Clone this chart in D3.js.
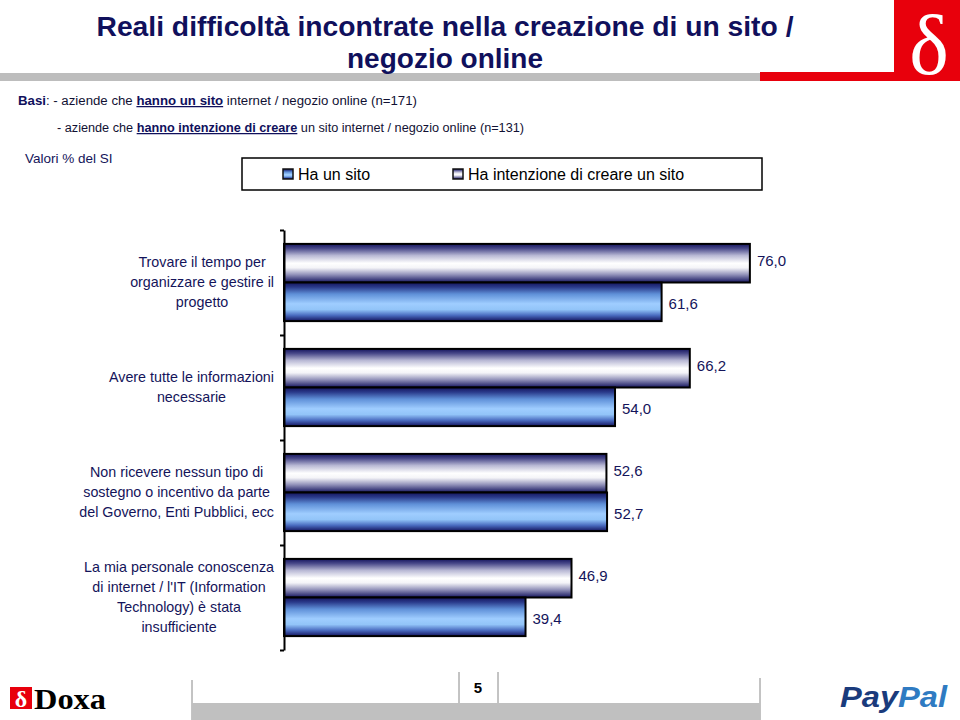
<!DOCTYPE html>
<html><head><meta charset="utf-8">
<script src="https://cdn.jsdelivr.net/npm/d3@7"></script>
<style>
html,body{margin:0;padding:0;background:#fff;}
svg{display:block;font-family:"Liberation Sans",Arial,sans-serif;}
</style></head>
<body><svg id="c" width="960" height="720"></svg>
<script>
const categories = [
  ["Trovare il tempo per","organizzare e gestire il","progetto"],
  ["Avere tutte le informazioni","necessarie"],
  ["Non ricevere nessun tipo di","sostegno o incentivo da parte","del Governo, Enti Pubblici, ecc"],
  ["La mia personale conoscenza","di internet / l'IT (Information","Technology) è stata","insufficiente"]
];
const seriesNames = ["Ha un sito", "Ha intenzione di creare un sito"];
const haSito = [61.6, 54.0, 52.7, 39.4];
const intenzione = [76.0, 66.2, 52.6, 46.9];

const svg = d3.select("#c");
const navy = "#14145a";
const fmt = v => d3.format(".1f")(v).replace(".", ",");

// defs gradients
const defs = svg.append("defs");
const gBlue = defs.append("linearGradient").attr("id","gBlue").attr("x1",0).attr("x2",0).attr("y1",0).attr("y2",1);
[[0,"#14145e"],[0.12,"#2a3a8a"],[0.3,"#5f90d8"],[0.55,"#9fcdff"],[0.7,"#92c4f8"],[0.85,"#4a6cc0"],[1,"#14145e"]]
  .forEach(([o,c])=>gBlue.append("stop").attr("offset",o).attr("stop-color",c));
const gWhite = defs.append("linearGradient").attr("id","gWhite").attr("x1",0).attr("x2",0).attr("y1",0).attr("y2",1);
[[0,"#14145e"],[0.12,"#4a4a8a"],[0.3,"#b8b8d4"],[0.5,"#ffffff"],[0.62,"#f4f4f8"],[0.8,"#9090b8"],[1,"#14145e"]]
  .forEach(([o,c])=>gWhite.append("stop").attr("offset",o).attr("stop-color",c));

// header
svg.append("rect").attr("x",0).attr("y",73).attr("width",760).attr("height",8).attr("fill","#bdbdbd");
svg.append("rect").attr("x",760).attr("y",72).attr("width",200).attr("height",9).attr("fill","#e8000c");
svg.append("rect").attr("x",894).attr("y",0).attr("width",66).attr("height",74).attr("fill","#e8000c");
svg.append("text").attr("x",929).attr("y",74).attr("text-anchor","middle")
  .attr("font-family","Liberation Serif, serif").attr("font-size",84).attr("fill","#fff").text("δ");

svg.append("text").attr("x",445).attr("y",36).attr("text-anchor","middle")
  .attr("font-size",27).attr("font-weight","bold").attr("fill","#10105c")
  .attr("textLength",697).attr("lengthAdjust","spacingAndGlyphs")
  .text("Reali difficoltà incontrate nella creazione di un sito /");
svg.append("text").attr("x",445).attr("y",68).attr("text-anchor","middle")
  .attr("font-size",27).attr("font-weight","bold").attr("fill","#10105c")
  .attr("textLength",196).attr("lengthAdjust","spacingAndGlyphs")
  .text("negozio online");

// basi
const b1 = svg.append("text").attr("x",18).attr("y",105).attr("font-size",12.5).attr("fill","#111133");
b1.append("tspan").attr("font-weight","bold").attr("fill","#10105c").text("Basi");
b1.append("tspan").text(":  - aziende che ");
b1.append("tspan").attr("font-weight","bold").attr("text-decoration","underline").attr("fill","#10105c").text("hanno un sito");
b1.append("tspan").text(" internet / negozio online (n=171)");
b1.attr("textLength",399).attr("lengthAdjust","spacingAndGlyphs");
const b2 = svg.append("text").attr("x",57).attr("y",132).attr("font-size",12.5).attr("fill","#111133");
b2.append("tspan").text("- aziende che ");
b2.append("tspan").attr("font-weight","bold").attr("text-decoration","underline").attr("fill","#10105c").text("hanno intenzione di creare");
b2.append("tspan").text(" un sito internet / negozio online (n=131)");
b2.attr("textLength",467).attr("lengthAdjust","spacingAndGlyphs");

svg.append("text").attr("x",25).attr("y",163).attr("font-size",13.5).attr("fill",navy).text("Valori % del SI");

// legend
svg.append("rect").attr("x",242).attr("y",158).attr("width",520).attr("height",32)
  .attr("fill","#fff").attr("stroke","#000").attr("stroke-width",1.5);
const legItems = [{x:283, fill:"url(#gBlue)", name:seriesNames[0]},{x:453, fill:"url(#gWhite)", name:seriesNames[1]}];
legItems.forEach(d=>{
  svg.append("rect").attr("x",d.x).attr("y",169).attr("width",10).attr("height",10)
    .attr("fill",d.fill).attr("stroke","#111").attr("stroke-width",1.5);
  svg.append("text").attr("x",d.x+15).attr("y",180).attr("font-size",16).attr("fill","#000").text(d.name);
});

// scales
const x = d3.scaleLinear().domain([0,100]).range([284, 897]);
const y = d3.scaleBand().domain(d3.range(categories.length)).range([230,650]).paddingInner(0).paddingOuter(0);
const inner = d3.scaleBand().domain(["intenzione","sito"]).range([0, y.bandwidth()]).paddingInner(0).paddingOuter(0.36);
const yIdx = d3.scaleLinear().domain([0,categories.length]).range([230,650]);

const data = [];
categories.forEach((c,i)=>{
  data.push({i, key:"intenzione", v:intenzione[i], fill:"url(#gWhite)"});
  data.push({i, key:"sito", v:haSito[i], fill:"url(#gBlue)"});
});

svg.append("g").selectAll("rect").data(data).join("rect")
  .attr("x", x(0))
  .attr("y", d=>y(d.i)+inner(d.key))
  .attr("width", d=>x(d.v)-x(0))
  .attr("height", inner.bandwidth())
  .attr("fill", d=>d.fill)
  .attr("stroke","#000").attr("stroke-width",2);

svg.append("g").selectAll("text").data(data).join("text")
  .attr("x", d=>x(d.v)+7)
  .attr("y", d=>y(d.i)+inner(d.key)+inner.bandwidth()/2 + (d.key==="intenzione"?-2:2))
  .attr("dy","0.35em")
  .attr("font-size",15).attr("fill",navy)
  .text(d=>fmt(d.v));

// axis
const ax = svg.append("g").attr("transform",`translate(${x(0)},0)`)
  .call(d3.axisLeft(yIdx).tickValues(d3.range(categories.length+1)).tickSize(4).tickSizeOuter(0).tickFormat(""));
ax.select(".domain").attr("stroke","#000").attr("stroke-width",2);
ax.selectAll(".tick line").attr("stroke","#000").attr("stroke-width",2);

// category labels
const lineH = 20;
categories.forEach((lines,i)=>{
  const g = svg.append("g");
  const cy = y(i)+y.bandwidth()/2 - 1;
  const t = g.append("text").attr("font-size",14.3).attr("fill",navy).attr("text-anchor","middle");
  const y0 = cy - (lines.length-1)*lineH/2;
  lines.forEach((l,k)=>t.append("tspan").attr("x",0).attr("y",y0+k*lineH).attr("dy","0.35em").text(l));
  const w = d3.max(t.selectAll("tspan").nodes(), n=>n.getComputedTextLength());
  g.attr("transform",`translate(${274 - w/2},0)`);
});

// footer
const fl = svg.append("g").attr("stroke","#888").attr("stroke-width",1);
svg.append("rect").attr("x",192).attr("y",703).attr("width",568).attr("height",17).attr("fill","#c0c0c0");
fl.append("line").attr("x1",192).attr("x2",192).attr("y1",680).attr("y2",720);
fl.append("line").attr("x1",459).attr("x2",459).attr("y1",672).attr("y2",720);
fl.append("line").attr("x1",498).attr("x2",498).attr("y1",672).attr("y2",720);
fl.append("line").attr("x1",760).attr("x2",760).attr("y1",678).attr("y2",720);
svg.append("text").attr("x",478).attr("y",693).attr("text-anchor","middle").attr("font-size",15)
  .attr("font-weight","bold").attr("fill","#000").text("5");

// Doxa logo
svg.append("rect").attr("x",10).attr("y",687).attr("width",22).attr("height",22).attr("fill","#e8000c");
svg.append("text").attr("x",21).attr("y",707).attr("text-anchor","middle").attr("font-family","Liberation Serif, serif")
  .attr("font-size",24).attr("font-weight","bold").attr("fill","#fff").text("δ");
svg.append("text").attr("x",34).attr("y",709).attr("font-family","Liberation Serif, serif")
  .attr("font-size",30).attr("font-weight","bold").attr("fill","#000")
  .attr("textLength",72).attr("lengthAdjust","spacingAndGlyphs").text("Doxa");

// PayPal logo
const pp = svg.append("text").attr("x",840).attr("y",707).attr("font-size",29).attr("font-weight","bold")
  .attr("font-style","italic").attr("font-family","Liberation Sans, Arial, sans-serif")
  .attr("textLength",107).attr("lengthAdjust","spacingAndGlyphs");
pp.append("tspan").attr("fill","#1a3b7c").text("Pay");
pp.append("tspan").attr("fill","#2f7bc2").text("Pal");
</script></body></html>
